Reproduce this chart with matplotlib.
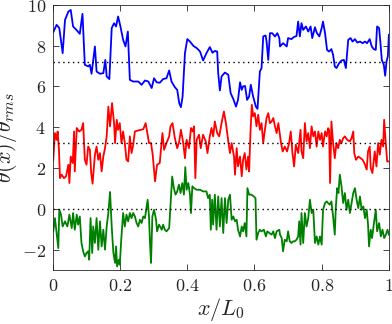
import matplotlib
matplotlib.use("Agg")
import matplotlib.pyplot as plt

# readings, x in units of L0
blue_x = [0.001, 0.011, 0.019, 0.029, 0.036, 0.046, 0.053, 0.060, 0.070, 0.080,
          0.088, 0.095, 0.105, 0.110, 0.115, 0.125, 0.130, 0.140, 0.150, 0.156,
          0.160, 0.168, 0.175, 0.182, 0.188, 0.194, 0.201, 0.209, 0.216, 0.223,
          0.229, 0.239, 0.254, 0.264, 0.274, 0.284, 0.294, 0.301, 0.309, 0.318,
          0.328, 0.338, 0.346, 0.353, 0.363, 0.370, 0.376, 0.381, 0.386, 0.393,
          0.400, 0.408, 0.418, 0.428, 0.438, 0.447, 0.457, 0.467, 0.475, 0.482,
          0.489, 0.492, 0.497, 0.502, 0.512, 0.522, 0.529, 0.537, 0.545, 0.551,
          0.557, 0.562, 0.566, 0.572, 0.578, 0.584, 0.589, 0.596, 0.604, 0.609,
          0.616, 0.621, 0.626, 0.633, 0.636, 0.641, 0.646, 0.653, 0.661, 0.668,
          0.674, 0.676, 0.685, 0.696, 0.700, 0.710, 0.717, 0.725, 0.730, 0.735,
          0.740, 0.745, 0.753, 0.760, 0.767, 0.772, 0.780, 0.785, 0.793, 0.800,
          0.804, 0.810, 0.816, 0.822, 0.829, 0.834, 0.839, 0.844, 0.852, 0.859,
          0.866, 0.872, 0.879, 0.886, 0.892, 0.899, 0.906, 0.914, 0.922, 0.929,
          0.935, 0.943, 0.949, 0.955, 0.961, 0.965, 0.971, 0.975, 0.979, 0.985,
          0.989, 0.993, 0.997, 1.000]
blue_y = [8.66, 9.02, 8.86, 7.63, 9.26, 9.67, 9.75, 8.94, 8.77, 8.58,
          9.56, 7.06, 6.98, 7.06, 6.62, 7.96, 6.73, 6.62, 6.65, 7.30,
          6.49, 6.36, 8.86, 9.10, 8.94, 9.43, 8.94, 8.28, 7.96, 8.69,
          6.32, 6.24, 6.24, 6.08, 6.29, 6.24, 5.92, 6.40, 6.20, 6.18,
          6.36, 6.40, 6.78, 6.24, 5.96, 5.83, 5.18, 4.98, 5.50, 7.63,
          8.32, 8.20, 7.99, 7.88, 7.71, 7.27, 7.63, 7.93, 7.65, 7.74,
          7.71, 6.65, 5.80, 6.49, 6.68, 6.57, 5.67, 5.38, 5.01, 5.34,
          6.20, 5.83, 6.00, 6.02, 5.34, 5.50, 6.08, 5.50, 5.01, 4.90,
          6.73, 6.90, 8.45, 8.50, 8.20, 7.30, 8.61, 8.61, 8.45, 8.61,
          8.37, 7.96, 8.12, 7.96, 8.37, 8.32, 8.42, 8.47, 9.18, 8.45,
          9.10, 8.77, 8.94, 8.69, 8.94, 8.37, 8.90, 8.64, 8.45, 8.86,
          9.18, 8.61, 7.79, 7.71, 7.83, 7.55, 6.98, 6.90, 7.14, 7.27,
          7.30, 6.90, 8.28, 8.37, 8.20, 8.32, 8.15, 8.20, 8.12, 8.20,
          8.12, 8.32, 7.96, 7.83, 7.79, 8.94, 8.86, 8.12, 7.30, 7.06,
          6.52, 7.22, 7.47, 8.53]

red_x = [0.001, 0.006, 0.011, 0.014, 0.018, 0.021, 0.026, 0.033, 0.039, 0.046,
         0.049, 0.053, 0.059, 0.063, 0.065, 0.071, 0.078, 0.085, 0.090, 0.095,
         0.100, 0.105, 0.110, 0.114, 0.118, 0.125, 0.130, 0.135, 0.140, 0.145,
         0.150, 0.155, 0.160, 0.165, 0.170, 0.173, 0.176, 0.182, 0.185, 0.190,
         0.194, 0.199, 0.204, 0.209, 0.214, 0.219, 0.224, 0.229, 0.234, 0.239,
         0.244, 0.254, 0.269, 0.276, 0.281, 0.286, 0.292, 0.297, 0.304, 0.310,
         0.318, 0.326, 0.331, 0.338, 0.346, 0.350, 0.356, 0.363, 0.370, 0.376,
         0.381, 0.388, 0.393, 0.398, 0.405, 0.411, 0.416, 0.420, 0.424, 0.428,
         0.435, 0.440, 0.447, 0.455, 0.460, 0.467, 0.472, 0.477, 0.482, 0.489,
         0.495, 0.502, 0.509, 0.515, 0.522, 0.527, 0.532, 0.539, 0.542, 0.547,
         0.551, 0.557, 0.562, 0.566, 0.571, 0.576, 0.581, 0.584, 0.588, 0.592,
         0.596, 0.601, 0.606, 0.611, 0.616, 0.621, 0.626, 0.631, 0.636, 0.641,
         0.646, 0.651, 0.656, 0.661, 0.666, 0.671, 0.673, 0.679, 0.684, 0.690,
         0.697, 0.703, 0.708, 0.713, 0.718, 0.723, 0.730, 0.737, 0.740, 0.745,
         0.750, 0.755, 0.760, 0.765, 0.770, 0.775, 0.780, 0.785, 0.790, 0.795,
         0.800, 0.804, 0.810, 0.815, 0.819, 0.822, 0.825, 0.829, 0.834, 0.839,
         0.844, 0.849, 0.854, 0.859, 0.864, 0.869, 0.876, 0.884, 0.889, 0.894,
         0.897, 0.902, 0.909, 0.916, 0.922, 0.929, 0.934, 0.938, 0.943, 0.946,
         0.951, 0.958, 0.963, 0.968, 0.973, 0.978, 0.983, 0.986, 0.990, 0.995,
         1.000]
red_y = [2.40, 3.71, 3.38, 3.79, 2.89, 1.50, 1.67, 1.50, 1.59, 2.16,
         1.26, 2.56, 2.24, 3.79, 1.83, 3.96, 3.79, 3.87, 4.20, 2.40,
         2.16, 3.05, 2.89, 1.75, 1.23, 2.65, 3.05, 2.40, 2.73, 1.83,
         2.56, 2.97, 3.55, 5.01, 4.04, 4.61, 5.18, 4.20, 3.22, 4.36,
         3.87, 4.20, 3.22, 3.79, 3.22, 2.40, 2.32, 3.55, 2.73, 3.14,
         3.79, 3.84, 3.90, 4.20, 3.71, 3.22, 3.22, 2.65, 1.34, 2.16,
         2.24, 3.71, 2.89, 3.22, 3.55, 4.04, 4.20, 3.46, 2.97, 3.30,
         3.87, 3.22, 2.48, 3.38, 2.97, 3.96, 3.79, 4.04, 1.50, 3.38,
         3.63, 2.97, 3.63, 3.30, 2.73, 3.55, 3.96, 3.55, 4.28, 3.71,
         3.55, 4.20, 4.77, 4.20, 3.30, 2.73, 3.22, 2.56, 1.67, 2.97,
         2.08, 2.56, 1.59, 2.40, 2.73, 1.92, 2.56, 1.83, 3.71, 5.10,
         4.53, 4.69, 4.04, 4.61, 3.87, 4.20, 3.22, 3.87, 4.45, 4.69,
         4.20, 4.28, 4.45, 4.04, 3.71, 4.20, 3.95, 3.22, 2.81, 3.05,
         2.81, 3.22, 3.79, 2.73, 2.07, 3.14, 2.73, 3.87, 2.81, 2.48,
         4.20, 3.30, 3.71, 2.97, 4.04, 3.55, 3.79, 3.05, 3.79, 3.38,
         3.71, 3.05, 3.79, 3.55, 3.95, 3.87, 1.26, 4.28, 3.22, 2.48,
         3.22, 2.97, 3.38, 3.22, 3.46, 3.55, 3.38, 3.30, 3.46, 3.79,
         2.73, 2.40, 2.56, 2.48, 2.40, 2.16, 1.92, 2.81, 3.05, 2.00,
         1.75, 2.81, 2.07, 3.22, 2.65, 3.38, 3.05, 4.36, 3.38, 2.32,
         2.32]

green_x = [0.001, 0.006, 0.011, 0.016, 0.019, 0.024, 0.029, 0.036, 0.043, 0.049,
           0.056, 0.060, 0.065, 0.071, 0.075, 0.080, 0.085, 0.090, 0.095, 0.100,
           0.105, 0.108, 0.112, 0.117, 0.120, 0.125, 0.130, 0.135, 0.140, 0.145,
           0.150, 0.155, 0.160, 0.165, 0.170, 0.175, 0.180, 0.185, 0.188, 0.191,
           0.196, 0.199, 0.204, 0.209, 0.214, 0.219, 0.224, 0.229, 0.234, 0.239,
           0.244, 0.249, 0.254, 0.259, 0.264, 0.269, 0.274, 0.279, 0.282, 0.286,
           0.289, 0.292, 0.296, 0.301, 0.307, 0.310, 0.316, 0.324, 0.328, 0.333,
           0.338, 0.346, 0.351, 0.355, 0.360, 0.365, 0.370, 0.375, 0.380, 0.385,
           0.390, 0.394, 0.398, 0.403, 0.408, 0.411, 0.415, 0.420, 0.428, 0.438,
           0.447, 0.457, 0.462, 0.467, 0.470, 0.474, 0.477, 0.482, 0.487, 0.492,
           0.497, 0.502, 0.507, 0.512, 0.517, 0.522, 0.527, 0.532, 0.537, 0.542,
           0.547, 0.551, 0.557, 0.562, 0.566, 0.571, 0.576, 0.579, 0.584, 0.591,
           0.598, 0.603, 0.606, 0.611, 0.616, 0.621, 0.628, 0.634, 0.638, 0.644,
           0.651, 0.656, 0.661, 0.666, 0.674, 0.676, 0.681, 0.685, 0.690, 0.696,
           0.700, 0.705, 0.710, 0.715, 0.720, 0.725, 0.730, 0.733, 0.737, 0.740,
           0.745, 0.750, 0.755, 0.760, 0.765, 0.770, 0.775, 0.780, 0.785, 0.790,
           0.795, 0.800, 0.804, 0.810, 0.815, 0.819, 0.824, 0.829, 0.834, 0.839,
           0.842, 0.846, 0.850, 0.854, 0.859, 0.864, 0.869, 0.874, 0.879, 0.884,
           0.889, 0.894, 0.899, 0.904, 0.909, 0.914, 0.919, 0.924, 0.929, 0.934,
           0.938, 0.941, 0.946, 0.950, 0.955, 0.961, 0.965, 0.971, 0.976, 0.981,
           0.986, 0.991, 0.996, 1.000]
green_y = [-1.11, -0.46, -1.19, -1.93, -0.05, -0.29, -0.87, -0.62, -0.87, -0.29,
           -0.95, -0.21, -1.03, -0.29, -0.78, -0.38, -1.68, -2.09, -2.34, -2.17,
           -2.09, -2.50, -0.46, -2.17, -0.87, -1.68, -0.46, -2.01, -0.62, -1.85,
           -1.03, -2.01, -0.87, -0.21, 0.82, -0.87, -2.17, -2.66, -1.85, -2.83,
           -2.50, -2.75, -1.36, -0.21, -0.87, -0.29, -0.62, -0.21, -0.46, -0.21,
           -0.38, -0.70, -0.87, -0.54, -0.70, -0.38, -0.46, 0.11, 0.44, -0.38,
           -1.68, -2.66, -0.38, -0.05, -0.54, -1.11, -0.78, -1.03, -0.78, -1.03,
           -1.11, -0.95, 0.44, 1.58, 1.01, 0.69, 0.85, 1.18, 0.77, 1.26,
           0.69, 2.04, 0.93, 1.26, 0.69, -0.21, 1.10, 1.01, 0.93, 0.93,
           0.85, 0.85, 0.52, 0.69, -1.03, 0.44, -0.78, 0.69, -1.03, 0.60,
           -0.87, 0.52, -1.19, 0.52, -0.70, 0.44, 0.69, -0.54, -0.38, -0.62,
           -0.54, -1.03, -1.36, -0.87, -1.11, -0.70, -1.36, 1.01, 0.69, 0.69,
           0.60, 0.52, -1.52, -1.19, -1.03, -1.11, -1.03, -1.36, -1.11, -1.19,
           -1.27, -1.11, -1.44, -1.11, -1.03, -1.27, -1.44, -2.09, -1.52, -1.60,
           -1.11, -1.60, -1.68, -1.60, -1.60, -1.52, -1.36, -0.62, -1.76, -0.21,
           -1.68, -0.21, -0.87, -0.46, 0.44, -0.21, -0.05, -1.68, -1.36, -1.76,
           -1.36, -1.76, -0.05, 0.28, 0.36, 0.28, 0.20, 0.36, -0.38, -1.27,
           0.03, 1.01, 0.77, 1.67, 1.10, 0.28, 0.77, -0.05, 0.44, -0.21,
           0.28, 0.77, 1.01, 0.44, 0.03, 0.60, -0.05, 0.11, -0.46, -0.05,
           -0.78, -1.85, -1.03, -1.44, -0.78, -0.05, -1.11, -0.70, -1.36, -1.03,
           -1.44, -1.27, -1.03, -1.27]

# dotted reference levels (mean of each trace)
levels = [7.2, 3.2, 0.0]

y_ticks = [-2, 0, 2, 4, 6, 8, 10]
x_ticks = [0, 0.2, 0.4, 0.6, 0.8, 1]
x_tick_labels = ["$0$", "$0.2$", "$0.4$", "$0.6$", "$0.8$", "$1$"]
y_tick_labels = ["$-2$", "$0$", "$2$", "$4$", "$6$", "$8$", "$10$"]

plt.rcParams["mathtext.fontset"] = "cm"

fig = plt.figure(figsize=(3.92, 3.24), dpi=100)
ax = fig.add_axes([0.135, 0.167, 0.857, 0.818])

ax.plot(blue_x, blue_y, color=(0, 0, 1), lw=1.3)
ax.plot(red_x, red_y, color=(1, 0, 0), lw=1.3)
ax.plot(green_x, green_y, color=(0, 0.5, 0), lw=1.3)
for lev in levels:
    ax.axhline(lev, color="k", ls=(0, (1, 2.5)), lw=1.0)

ax.set_xlim(0, 1)
ax.set_ylim(-3, 10)
ax.set_xticks(x_ticks)
ax.set_xticklabels(x_tick_labels)
ax.set_yticks(y_ticks)
ax.set_yticklabels(y_tick_labels)
ax.tick_params(direction="in", top=True, right=True, length=4, width=0.6,
               labelsize=13, colors="#262626", pad=5)
for sp in ax.spines.values():
    sp.set_color("#262626")
    sp.set_linewidth(0.6)

ax.set_xlabel(r"$x/L_0$", fontsize=16, color="#262626", labelpad=1)
ax.set_ylabel(r"$\theta(x)/\theta_{rms}$", fontsize=16, color="#262626", labelpad=2)

fig.savefig("out.png", dpi=100)
